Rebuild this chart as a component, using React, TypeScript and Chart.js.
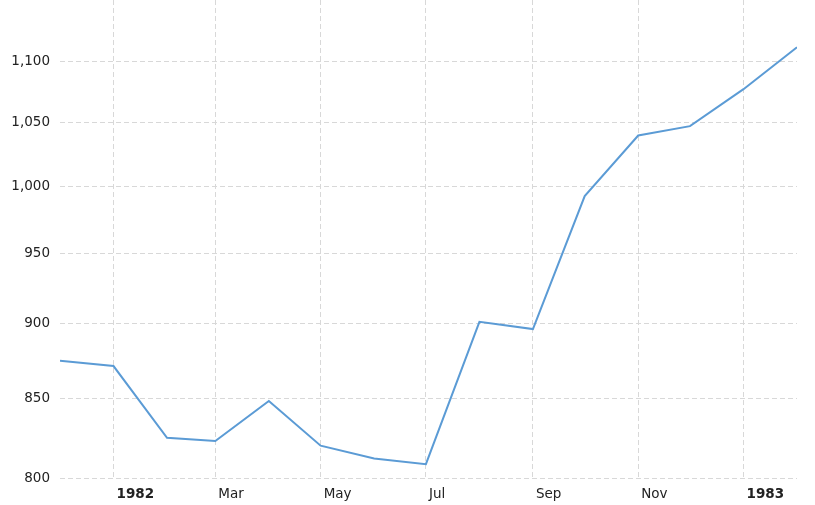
import React, { useEffect, useRef } from "react";
import { Chart, registerables } from "chart.js";

Chart.register(...registerables);

const dates = ["1981-12-01", "1982-01-01", "1982-02-01", "1982-03-01", "1982-04-01", "1982-05-01", "1982-06-01", "1982-07-01", "1982-08-01", "1982-09-01", "1982-10-01", "1982-11-01", "1982-12-01", "1983-01-01", "1983-02-01"];
const values = [875, 871.5, 825, 823, 848.5, 820, 812, 808.5, 901.5, 896.5, 992.5, 1039.5, 1047, 1077, 1112];
const xTickDates = ["1982-01-01", "1982-03-01", "1982-05-01", "1982-07-01", "1982-09-01", "1982-11-01", "1983-01-01"];
const xTickLabels = ["1982", "Mar", "May", "Jul", "Sep", "Nov", "1983"];
const xTickBold = [true, false, false, false, false, false, true];
const yTicks = [800, 850, 900, 950, 1000, 1050, 1100];
const yMin = 800;
const yMax = 1153;

const FONT = "'DejaVu Sans', Verdana, sans-serif";
const ts = (d: string) => Date.parse(d + "T00:00:00Z");
const xTickValues = xTickDates.map(ts);

export default function App() {
  const ref = useRef<HTMLCanvasElement>(null);
  useEffect(() => {
    document.body.style.margin = "0";
    const ctx = ref.current!;
    const chart = new Chart(ctx, {
      type: "line",
      data: {
        datasets: [
          {
            label: "Value",
            data: values.map((v, i) => ({ x: ts(dates[i]), y: v })),
            borderColor: "#5b9bd5",
            borderWidth: 2,
            pointRadius: 0,
            tension: 0,
            fill: false,
          },
        ],
      },
      options: {
        animation: false,
        responsive: false,
        maintainAspectRatio: false,
        layout: { padding: { left: 0, right: 18, top: 0, bottom: 0 } },
        plugins: { legend: { display: false }, tooltip: { enabled: false } },
        scales: {
          x: {
            type: "linear",
            min: ts(dates[0]),
            max: ts(dates[dates.length - 1]),
            afterBuildTicks: (scale: any) => {
              scale.ticks = xTickValues.map((v) => ({ value: v }));
            },
            afterFit: (scale: any) => {
              scale.height = 27;
              scale.paddingLeft = 0;
              scale.paddingRight = 0;
            },
            ticks: {
              autoSkip: false,
              maxRotation: 0,
              align: "start",
              labelOffset: 3,
              padding: 8,
              color: "#222222",
              font: (c: any) => {
                const idx = xTickValues.indexOf(c.tick ? c.tick.value : -1);
                return {
                  family: FONT,
                  size: 13.5,
                  weight: idx >= 0 && xTickBold[idx] ? "bold" : "normal",
                };
              },
              callback: (v: any) => {
                const idx = xTickValues.indexOf(Number(v));
                return idx >= 0 ? xTickLabels[idx] : "";
              },
            },
            grid: { color: "#d8d8d8", lineWidth: 1, drawTicks: false },
            border: { display: false, dash: [5, 3] },
          },
          y: {
            type: "logarithmic",
            min: yMin,
            max: yMax,
            afterBuildTicks: (scale: any) => {
              scale.ticks = yTicks.map((v) => ({ value: v }));
            },
            afterFit: (scale: any) => {
              scale.width = 60;
              scale.paddingTop = 0;
              scale.paddingBottom = 0;
            },
            ticks: {
              padding: 10,
              color: "#222222",
              font: { family: FONT, size: 13.5 },
              callback: (v: any) => Number(v).toLocaleString("en-US"),
            },
            grid: { color: "#d8d8d8", lineWidth: 1, drawTicks: false },
            border: { display: false, dash: [5, 3] },
          },
        },
      },
    });
    return () => chart.destroy();
  }, []);
  return (
    <div style={{ width: 815, height: 505 }}>
      <canvas ref={ref} width={815} height={505} style={{ display: "block" }} />
    </div>
  );
}
